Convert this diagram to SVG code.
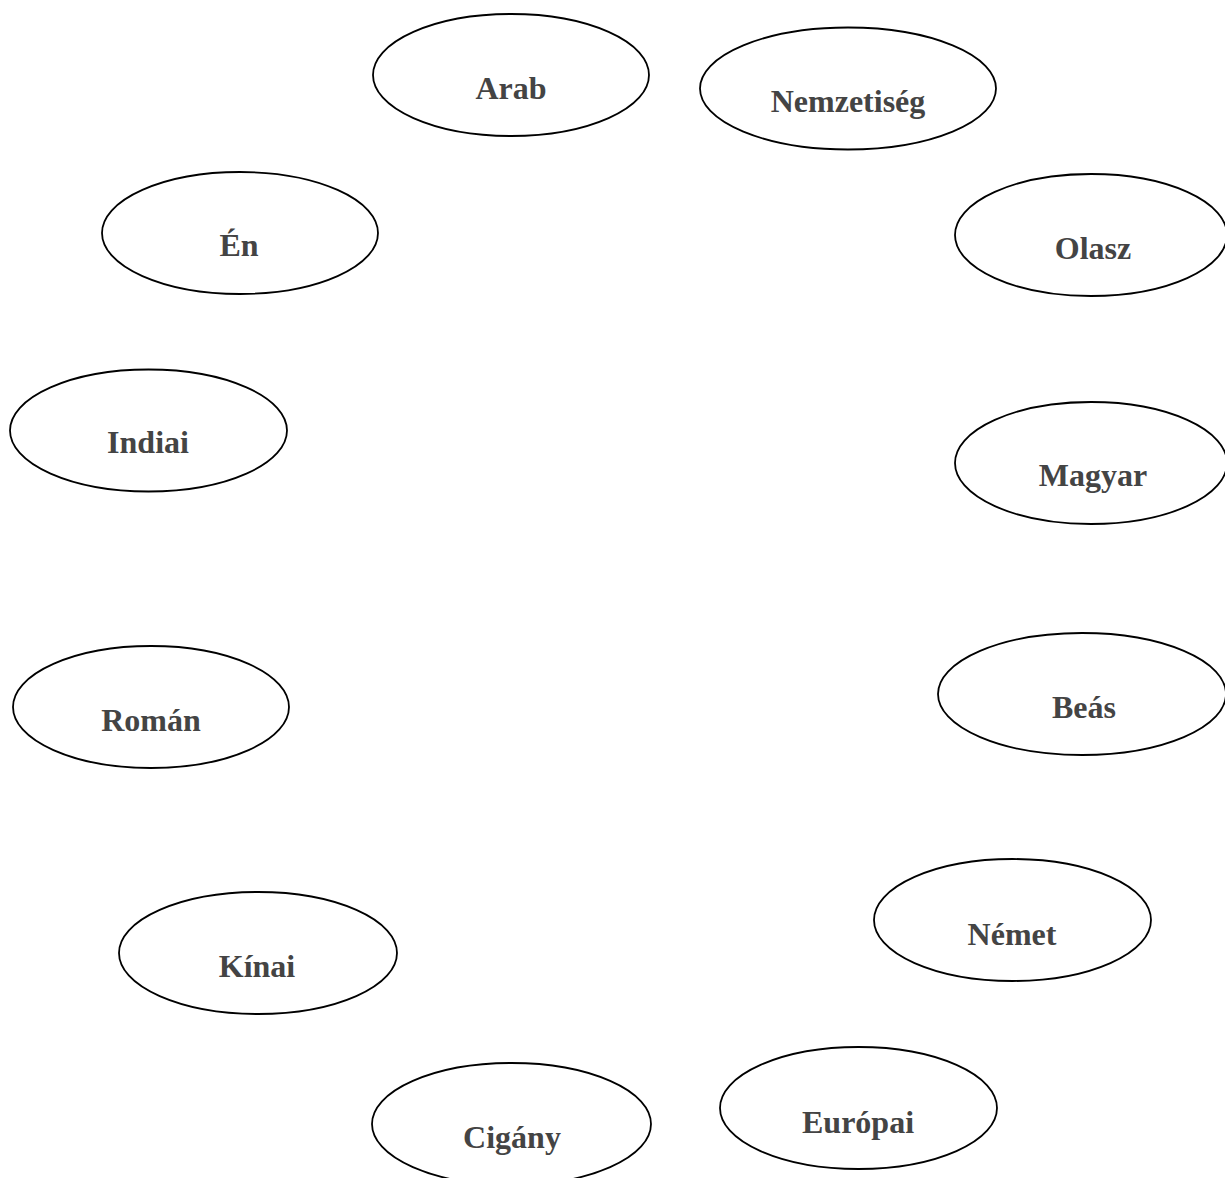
<svg xmlns="http://www.w3.org/2000/svg" width="1225" height="1178" viewBox="0 0 1225 1178">
<style>
.n ellipse{fill:#fff;stroke:#000;stroke-width:1.8}
.n text{font-family:"Liberation Serif","Times New Roman",serif;font-weight:bold;font-size:32px;fill:#444;text-anchor:middle}
</style>
<rect width="1225" height="1178" fill="#fff"/>
<g id="connectors"></g>
<g id="arab" class="n"><ellipse cx="511" cy="75" rx="138" ry="61"/><text x="511" y="99">Arab</text></g>
<g id="nemzetiseg" class="n"><ellipse cx="848" cy="88.5" rx="148" ry="61"/><text x="848" y="112">Nemzetiség</text></g>
<g id="en" class="n"><ellipse cx="240" cy="233" rx="138" ry="61"/><text x="239" y="256">Én</text></g>
<g id="olasz" class="n"><ellipse cx="1091" cy="235" rx="136" ry="61"/><text x="1093" y="259">Olasz</text></g>
<g id="indiai" class="n"><ellipse cx="148.5" cy="430.5" rx="138.5" ry="61"/><text x="148" y="453">Indiai</text></g>
<g id="magyar" class="n"><ellipse cx="1091" cy="463" rx="136" ry="61"/><text x="1093" y="486">Magyar</text></g>
<g id="roman" class="n"><ellipse cx="151" cy="707" rx="138" ry="61"/><text x="151" y="731">Román</text></g>
<g id="beas" class="n"><ellipse cx="1082" cy="694" rx="144" ry="61"/><text x="1084" y="718">Beás</text></g>
<g id="kinai" class="n"><ellipse cx="258" cy="953" rx="139" ry="61"/><text x="257" y="977">Kínai</text></g>
<g id="nemet" class="n"><ellipse cx="1012.5" cy="920" rx="138.5" ry="61"/><text x="1012" y="945">Német</text></g>
<g id="cigany" class="n"><ellipse cx="511.5" cy="1124" rx="139.5" ry="61"/><text x="512" y="1148">Cigány</text></g>
<g id="europai" class="n"><ellipse cx="858.5" cy="1108" rx="138.5" ry="61"/><text x="858" y="1133">Európai</text></g>
</svg>
